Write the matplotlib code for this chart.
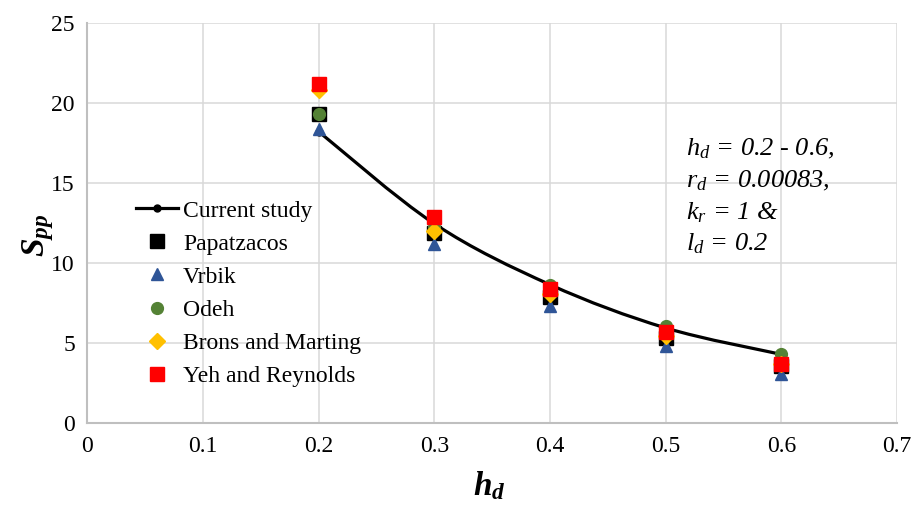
import numpy as np
import matplotlib
matplotlib.use('Agg')
import matplotlib.pyplot as plt
from matplotlib.path import Path
from matplotlib.patches import PathPatch
from matplotlib.lines import Line2D

plt.rcParams['font.family'] = 'Liberation Serif'
plt.rcParams['mathtext.fontset'] = 'custom'
plt.rcParams['mathtext.rm'] = 'Liberation Serif'
plt.rcParams['mathtext.it'] = 'Liberation Serif:italic'
plt.rcParams['mathtext.bf'] = 'Liberation Serif:bold'
plt.rcParams['mathtext.bfit'] = 'Liberation Serif:italic:bold'

# valores
hd = [0.2, 0.3, 0.4, 0.5, 0.6]
current = [18.2, 12.45, 8.65, 5.95, 4.3]
papatzacos = [19.3, 11.9, 7.9, 5.3, 3.6]
vrbik = [18.35, 11.2, 7.35, 4.85, 3.1]
odeh = [19.3, 12.25, 8.65, 6.1, 4.3]
brons = [20.8, 12.0, 8.1, 5.45, 3.7]
yeh = [21.2, 12.9, 8.4, 5.7, 3.7]

xticks = [0, 0.1, 0.2, 0.3, 0.4, 0.5, 0.6, 0.7]
yticks = [0, 5, 10, 15, 20, 25]
notes = [r'$h_d$ = 0.2 - 0.6,', r'$r_d$ = 0.00083,', r'$k_r$ = 1 &', r'$l_d$ = 0.2']


def smooth_path(x, y):
	# curva suavizada estilo Excel (Catmull-Rom -> Bezier)
	p = np.column_stack([x, y])
	n = len(p)
	verts = [p[0]]
	codes = [Path.MOVETO]
	for i in range(n - 1):
		p0 = p[i - 1] if i > 0 else p[i]
		p3 = p[i + 2] if i + 2 < n else p[i + 1]
		c1 = p[i] + (p[i + 1] - p0) / 6
		c2 = p[i + 1] - (p3 - p[i]) / 6
		verts += [c1, c2, p[i + 1]]
		codes += [Path.CURVE4] * 3
	return Path(verts, codes)


fig = plt.figure(figsize=(9.12, 5.05), dpi=100)
ax = fig.add_axes([0.0959, 0.1618, 0.8877, 0.7932])

ax.add_patch(PathPatch(smooth_path(hd, current), fill=False, lw=2.3, color='black', zorder=3))
ax.plot(hd, current, 'o', color='black', ms=5, zorder=3)

ax.plot(hd, papatzacos, 's', color='black', ms=10, zorder=4)
ax.plot(hd, vrbik, '^', color='#2F5597', ms=8.5, zorder=4)
ax.plot(hd, odeh, 'o', color='#548235', ms=8.5, zorder=4)
ax.plot(hd, brons, 'D', color='#FFC000', ms=8, zorder=4)
ax.plot(hd, yeh, 's', color='#FF0000', ms=9.5, zorder=4)

ax.set_xlim(0, 0.7)
ax.set_ylim(0, 25)
ax.set_xticks(xticks)
ax.set_xticklabels([f'{t:g}' for t in xticks])
ax.set_yticks(yticks)
ax.tick_params(length=0, labelsize=17, pad=9)
ax.grid(True, color='#D9D9D9', lw=1.1)
ax.set_axisbelow(True)
for s in ['top', 'right']:
	ax.spines[s].set_visible(False)
for s in ['left', 'bottom']:
	ax.spines[s].set_color('#BFBFBF')
	ax.spines[s].set_linewidth(1.5)

ax.set_xlabel(r'$\mathbfit{h}_{\mathbfit{d}}$', fontsize=24)
ax.xaxis.set_label_coords(0.497, -0.115)
ax.set_ylabel(r'$\mathbfit{S}_{\mathbfit{pp}}$', fontsize=24)
ax.yaxis.set_label_coords(-0.039, 0.47)

handles = [
	Line2D([], [], color='black', lw=2.3, marker='o', ms=5),
	Line2D([], [], ls='', marker='s', color='black', ms=10),
	Line2D([], [], ls='', marker='^', color='#2F5597', ms=8.5),
	Line2D([], [], ls='', marker='o', color='#548235', ms=8.5),
	Line2D([], [], ls='', marker='D', color='#FFC000', ms=8),
	Line2D([], [], ls='', marker='s', color='#FF0000', ms=9.5),
]
labels = ['Current study', 'Papatzacos', 'Vrbik', 'Odeh', 'Brons and Marting', 'Yeh and Reynolds']
fig.legend(handles, labels, loc='upper left', bbox_to_anchor=(136 / 912, 1 - 200 / 505),
	frameon=False, fontsize=17, handlelength=1.8, handletextpad=0.2,
	labelspacing=0.49, borderpad=0, borderaxespad=0)

ys = [155, 187, 219, 250]
for t, yy in zip(notes, ys):
	fig.text(686 / 912, 1 - yy / 505, t, fontsize=19, style='italic', va='baseline', ha='left')

plt.savefig('out.png', dpi=100)
